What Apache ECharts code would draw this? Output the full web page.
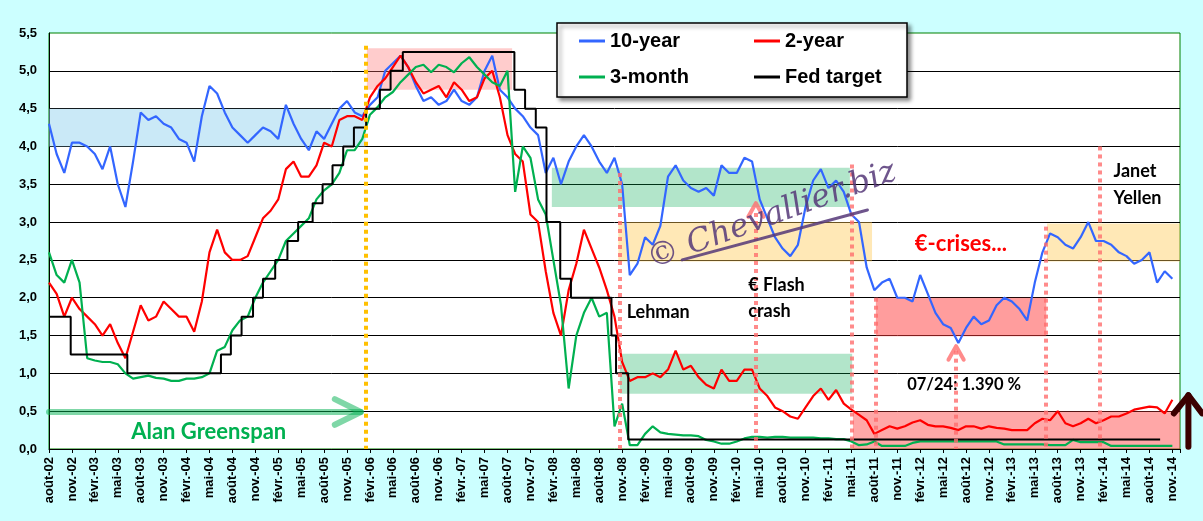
<!DOCTYPE html>
<html>
<head>
<meta charset="utf-8">
<script src="https://cdn.jsdelivr.net/npm/echarts@6/dist/echarts.min.js"></script>
<style>
html,body{margin:0;padding:0;background:#ccffff;}
#chart{width:1203px;height:521px;}
</style>
</head>
<body>
<div id="chart"></div>
<script>
// one value per month, index 0 = août-02
const tickLabels = ['août-02','nov.-02','févr.-03','mai-03','août-03','nov.-03','févr.-04','mai-04','août-04','nov.-04',
  'févr.-05','mai-05','août-05','nov.-05','févr.-06','mai-06','août-06','nov.-06','févr.-07','mai-07','août-07','nov.-07',
  'févr.-08','mai-08','août-08','nov.-08','févr.-09','mai-09','août-09','nov.-09','févr.-10','mai-10','août-10','nov.-10',
  'févr.-11','mai-11','août-11','nov.-11','févr.-12','mai-12','août-12','nov.-12','févr.-13','mai-13','août-13','nov.-13',
  'févr.-14','mai-14','août-14','nov.-14'];

const tenYear = [
  4.3,3.9,3.65,4.05,4.05,4.0,3.9,3.7,4.0,3.5,3.2,3.8,
  4.45,4.35,4.4,4.3,4.25,4.1,4.05,3.8,4.4,4.8,4.7,4.45,
  4.25,4.15,4.05,4.15,4.25,4.2,4.1,4.55,4.3,4.1,3.95,4.2,
  4.1,4.3,4.5,4.6,4.45,4.4,4.55,4.65,5.0,5.1,5.2,5.05,
  4.8,4.6,4.65,4.55,4.6,4.75,4.6,4.55,4.65,5.0,5.2,4.75,
  4.65,4.5,4.4,4.25,4.15,3.65,3.85,3.5,3.8,4.0,4.15,4.0,
  3.8,3.65,3.85,3.5,2.3,2.45,2.8,2.7,2.95,3.6,3.75,3.55,
  3.45,3.4,3.45,3.35,3.75,3.65,3.65,3.85,3.8,3.3,3.05,2.8,
  2.65,2.55,2.7,3.2,3.55,3.7,3.45,3.55,3.4,3.1,3.0,2.4,
  2.1,2.2,2.25,2.0,2.0,1.95,2.3,2.05,1.8,1.65,1.6,1.4,
  1.6,1.75,1.65,1.7,1.9,2.0,1.95,1.85,1.7,2.2,2.6,2.85,
  2.8,2.7,2.65,2.8,3.0,2.75,2.75,2.7,2.6,2.55,2.45,2.5,
  2.6,2.2,2.35,2.25
];
const twoYear = [
  2.2,2.05,1.75,2.0,1.85,1.75,1.65,1.5,1.65,1.4,1.2,1.55,
  1.9,1.7,1.75,1.95,1.85,1.75,1.75,1.55,1.95,2.6,2.9,2.6,
  2.5,2.5,2.55,2.8,3.05,3.15,3.3,3.7,3.8,3.6,3.6,3.75,
  4.05,4.0,4.35,4.4,4.4,4.35,4.65,4.8,4.9,5.05,5.2,5.05,
  4.85,4.7,4.75,4.8,4.65,4.85,4.75,4.6,4.65,4.9,5.0,4.65,
  4.15,3.9,3.8,3.1,3.0,2.35,1.8,1.5,2.1,2.45,2.9,2.65,
  2.4,2.1,1.75,1.15,0.9,0.95,0.95,1.0,0.95,1.05,1.3,1.05,
  1.1,0.95,0.85,0.8,1.05,0.9,0.9,1.05,1.05,0.8,0.7,0.55,
  0.5,0.43,0.4,0.55,0.7,0.8,0.65,0.78,0.6,0.52,0.45,0.38,
  0.2,0.25,0.3,0.27,0.3,0.35,0.38,0.32,0.3,0.3,0.28,0.25,
  0.3,0.3,0.27,0.3,0.28,0.27,0.25,0.25,0.25,0.34,0.4,0.38,
  0.5,0.34,0.3,0.34,0.4,0.34,0.38,0.43,0.43,0.47,0.52,0.54,
  0.56,0.55,0.47,0.65
];
const threeMonth = [
  2.6,2.3,2.2,2.5,2.2,1.2,1.17,1.15,1.15,1.12,1.0,0.93,
  0.95,0.97,0.94,0.93,0.9,0.9,0.93,0.93,0.95,1.0,1.3,1.35,
  1.57,1.7,1.75,2.0,2.2,2.35,2.5,2.75,2.85,2.95,3.05,3.3,
  3.42,3.5,3.65,3.95,3.95,4.1,4.42,4.52,4.65,4.72,4.85,4.95,
  5.05,5.08,4.98,5.08,5.05,4.98,5.1,5.18,5.05,4.95,4.85,4.8,
  5.0,3.4,4.0,3.85,3.3,3.1,2.5,1.9,0.8,1.5,1.8,2.0,
  1.75,1.8,0.3,0.6,0.05,0.05,0.2,0.3,0.22,0.2,0.19,0.18,
  0.18,0.17,0.12,0.1,0.07,0.07,0.1,0.14,0.16,0.16,0.15,0.16,
  0.16,0.15,0.15,0.15,0.15,0.14,0.14,0.13,0.13,0.1,0.05,0.06,
  0.1,0.04,0.04,0.04,0.04,0.08,0.1,0.1,0.1,0.1,0.1,0.1,
  0.1,0.1,0.1,0.1,0.1,0.06,0.06,0.06,0.06,0.06,0.06,0.05,
  0.05,0.05,0.12,0.09,0.09,0.09,0.09,0.04,0.04,0.04,0.04,0.04,
  0.04,0.04,0.04,0.04
];
// [month index where the new target starts, target rate]
const fedTarget = [
  [0,1.75],[2.84,1.25],[10.25,1.0],[22.5,1.25],[23.8,1.5],[25.2,1.75],[26.7,2.0],[28.0,2.25],
  [29.6,2.5],[31.2,2.75],[32.6,3.0],[34.5,3.25],[35.8,3.5],[37.1,3.75],[38.5,4.0],[39.9,4.25],
  [41.5,4.5],[43.3,4.75],[44.7,5.0],[46.3,5.25],[60.9,4.75],[62.3,4.5],[63.7,4.25],[65.1,3.0],
  [66.9,2.25],[68.3,2.0],[73.6,1.5],[74.2,1.0],[75.8,0.125],[145.4,0.125]
];

const F = '"Liberation Sans", Arial, sans-serif';
const N = 'Lato, "Open Sans", sans-serif';
const toPts = arr => arr.map((v, i) => [i, v]);
const pink = 'rgba(255,110,110,0.8)';

function vline(m, top, color) {
  return [{ coord: [m, top], lineStyle: { color: color } }, { coord: [m, 0] }];
}
function box(m0, m1, v0, v1, color) {
  return [{ coord: [m0, v1], itemStyle: { color: color } }, { coord: [m1, v0] }];
}
function shape(pts, color, width, z) {
  return {
    type: 'line', data: pts, symbol: 'none', silent: true, z: z,
    lineStyle: { color: color, width: width, cap: 'round', join: 'round' }
  };
}
function note(text, at, size, color, align, extra) {
  return {
    coord: at, symbol: 'circle', symbolSize: 1, itemStyle: { color: 'rgba(0,0,0,0)' },
    label: Object.assign({
      show: true, formatter: text, position: 'inside', align: align || 'left',
      fontFamily: N, fontWeight: 'bold', fontSize: size, color: color
    }, extra || {})
  };
}

const chart = echarts.init(document.getElementById('chart'));
const legendBase = {
  icon: 'rect', itemWidth: 26, itemHeight: 3, padding: 0, selectedMode: false, z: 10,
  textStyle: { fontFamily: F, fontWeight: 'bold', fontSize: 20, color: '#000' }
};

chart.setOption({
  animation: false,
  backgroundColor: '#ccffff',
  grid: { left: 49, right: 23, top: 33, bottom: 72, show: true, backgroundColor: '#fff', borderColor: '#008000', borderWidth: 1 },
  legend: [
    Object.assign({ data: ['10-year'], left: 579, top: 31 }, legendBase),
    Object.assign({ data: ['2-year'], left: 754, top: 31 }, legendBase),
    Object.assign({ data: ['3-month'], left: 579, top: 67 }, legendBase),
    Object.assign({ data: ['Fed target'], left: 754, top: 67 }, legendBase)
  ],
  xAxis: {
    type: 'value', min: 0, max: 148, interval: 3,
    axisLine: { lineStyle: { color: '#000', width: 1 } },
    axisTick: { length: 4, lineStyle: { color: '#000' } },
    splitLine: { show: false },
    axisLabel: {
      rotate: 90, margin: 8, fontFamily: F, fontWeight: 'bold', fontSize: 13, color: '#000',
      formatter: v => (v % 3 === 0 && tickLabels[v / 3]) ? tickLabels[v / 3] : ''
    }
  },
  yAxis: {
    type: 'value', min: 0, max: 5.5, interval: 0.5,
    axisLine: { show: true, lineStyle: { color: '#000', width: 1 } },
    axisTick: { show: false },
    splitLine: { showMaxLine: false, lineStyle: { color: '#000', width: 1 } },
    axisLabel: {
      margin: 12, fontFamily: F, fontWeight: 'bold', fontSize: 13, color: '#000',
      formatter: v => v.toFixed(1).replace('.', ',')
    }
  },
  series: [
    // box sitting under the lines
    { type: 'line', data: [], z: 1, silent: true,
      markArea: { silent: true, data: [box(0, 41.4, 4.0, 4.5, 'rgba(150,212,240,0.5)')] } },

    { name: '10-year', type: 'line', data: toPts(tenYear), symbol: 'none', z: 2, color: '#3366ff', lineStyle: { width: 2.2 } },
    { name: '2-year', type: 'line', data: toPts(twoYear), symbol: 'none', z: 2, color: '#ff0000', lineStyle: { width: 2.2 } },
    { name: '3-month', type: 'line', data: toPts(threeMonth), symbol: 'none', z: 2, color: '#00b050', lineStyle: { width: 2.2 } },
    { name: 'Fed target', type: 'line', data: fedTarget, step: 'end', symbol: 'none', z: 2, color: '#000', lineStyle: { width: 2 } },

    // tinted boxes drawn over the lines
    { type: 'line', data: [], z: 3, silent: true,
      markArea: { silent: true, data: [
        box(41.6, 60.6, 4.75, 5.3, 'rgba(255,110,110,0.35)'),
        box(65.8, 104.8, 3.2, 3.72, 'rgba(0,170,80,0.3)'),
        box(74.5, 107.7, 2.48, 3.0, 'rgba(255,200,80,0.42)'),
        box(74.7, 105.1, 0.73, 1.26, 'rgba(0,170,80,0.3)'),
        box(108.2, 130.5, 1.49, 2.0, 'rgba(255,60,60,0.5)'),
        box(130.6, 148, 2.48, 2.98, 'rgba(255,200,80,0.42)'),
        box(105.2, 148, 0, 0.5, 'rgba(255,60,60,0.45)')
      ] } },

    // dotted event lines
    { type: 'line', data: [], z: 4, silent: true,
      markLine: { silent: true, symbol: ['none', 'none'], label: { show: false },
        lineStyle: { type: [4, 4], width: 4, color: pink },
        data: [
          vline(41.4, 5.33, '#ffc000'),
          vline(74.7, 3.65, pink),
          vline(92.5, 3.12, pink),
          vline(105.1, 3.76, pink),
          vline(108.2, 2.0, pink),
          vline(118.7, 1.3, pink),
          vline(130.4, 2.94, pink),
          vline(137.5, 4.0, pink)
        ] } },

    // Greenspan arrow
    shape([[0, 0.49], [40.8, 0.49]], 'rgba(0,176,80,0.5)', 6, 4),
    shape([[37.4, 0.66], [40.8, 0.49], [37.4, 0.32]], 'rgba(0,176,80,0.5)', 6, 4),
    // carets
    shape([[91.5, 3.07], [92.5, 3.25], [93.5, 3.07]], pink, 4, 4),
    shape([[117.7, 1.18], [118.7, 1.36], [119.7, 1.18]], pink, 4, 4),
    // watermark underline
    shape([[82.85, 2.5], [107.1, 3.16]], 'rgba(85,55,120,0.85)', 3, 5),

    // text notes
    { type: 'line', data: [], z: 6, silent: true,
      markPoint: { silent: true, data: [
        note('Alan Greenspan', [20.9, 0.23], 22, '#00b050', 'center'),
        note('Lehman', [75.6, 1.81], 18, '#000'),
        note('€ Flash\ncrash', [91.5, 2.0], 18, '#000', 'left', { lineHeight: 26 }),
        note('€-crises...', [113.3, 2.71], 22, '#ff0000'),
        note('Janet\nYellen', [139.3, 3.5], 18, '#000', 'left', { lineHeight: 27 }),
        note('07/24: 1.390 %', [112.3, 0.85], 16.5, '#000'),
        note('© Chevallier.biz', [94.6, 3.08], 32, 'rgba(85,55,120,0.85)', 'center',
          { rotate: 20, fontFamily: '"DejaVu Serif", serif', fontStyle: 'italic', fontWeight: 'normal' })
      ] } }
  ]
});

// legend frame and the dark arrow beside the plot (arrow placed through the axis scales)
const px = p => chart.convertToPixel({ gridIndex: 0 }, p);
const arrowStyle = { stroke: '#3b0000', lineWidth: 6, lineCap: 'round', lineJoin: 'round', fill: null };
chart.setOption({
  graphic: [
    { type: 'rect', z: 9, shape: { x: 557, y: 23, width: 350, height: 74 },
      style: { fill: '#fff', stroke: '#000', lineWidth: 1.5, shadowBlur: 4, shadowOffsetX: 3, shadowOffsetY: 3, shadowColor: 'rgba(0,0,0,0.45)' } },
    { type: 'polyline', z: 8, shape: { points: [px([149.1, 0.03]), px([149.1, 0.71])] }, style: arrowStyle },
    { type: 'polyline', z: 8, shape: { points: [px([147.2, 0.47]), px([149.1, 0.71]), px([150.9, 0.47])] }, style: arrowStyle }
  ]
});
</script>
</body>
</html>
